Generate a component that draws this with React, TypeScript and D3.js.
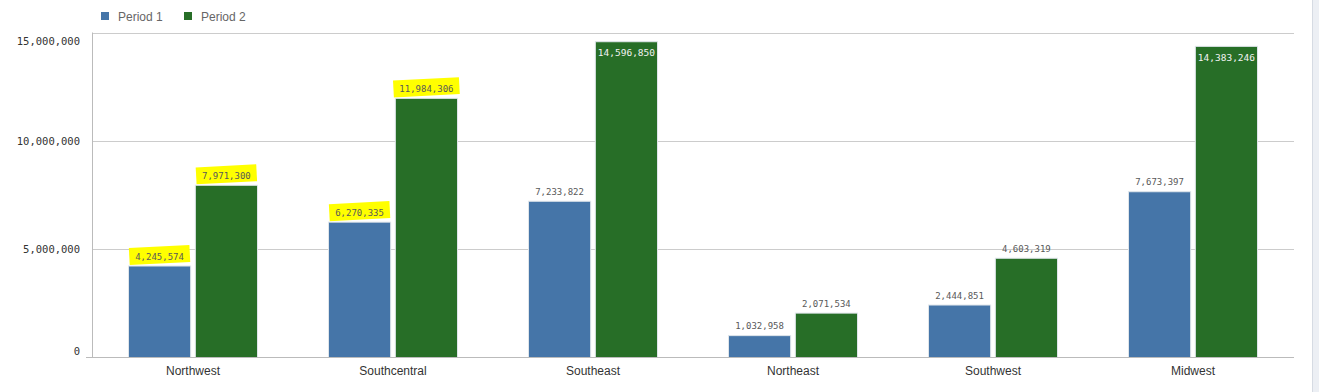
import React, { useRef, useEffect } from 'react';
import * as d3 from 'd3';

const categories = ['Northwest', 'Southcentral', 'Southeast', 'Northeast', 'Southwest', 'Midwest'];
const seriesNames = ['Period 1', 'Period 2'];
const period1 = [4245574, 6270335, 7233822, 1032958, 2444851, 7673397];
const period2 = [7971300, 11984306, 14596850, 2071534, 4603319, 14383246];
const yTicks = [0, 5000000, 10000000, 15000000];
// labels marked with a yellow highlighter in the picture: [category index, series index]
const highlighted = [[0, 0], [0, 1], [1, 0], [1, 1]];

const colors = ['#4575a8', '#276e27'];

const App: React.FC = () => {
  const ref = useRef<SVGSVGElement | null>(null);

  useEffect(() => {
    const W = 1319;
    const H = 392;
    const left = 92.5;
    const right = 1294;
    const top = 32.5;
    const bottom = 357.5;

    const svg = d3.select(ref.current);
    svg.selectAll('*').remove();
    svg.attr('width', W).attr('height', H);

    svg.append('rect').attr('width', W).attr('height', H).attr('fill', '#ffffff');
    // side panel at the right edge
    svg.append('rect').attr('x', 1312).attr('y', 0).attr('width', 7).attr('height', H).attr('fill', '#eceff4');
    svg.append('line').attr('x1', 1312.5).attr('x2', 1312.5).attr('y1', 0).attr('y2', H)
      .attr('stroke', '#d6dbe3');

    const x0 = d3.scaleBand<string>().domain(categories).range([93, 1293])
      .paddingInner(0.35).paddingOuter(0.175);
    const x1 = d3.scaleBand<string>().domain(seriesNames).range([0, x0.bandwidth()]).paddingInner(0.055);
    const y = d3.scaleLinear().domain([0, 15000000]).range([bottom, top]);

    // gridlines
    svg.append('g').selectAll('line').data(yTicks.filter((t) => t > 0)).join('line')
      .attr('x1', left).attr('x2', right)
      .attr('y1', (d) => Math.round(y(d)) + 0.5).attr('y2', (d) => Math.round(y(d)) + 0.5)
      .attr('stroke', '#cccccc');

    // y tick labels (extremes pulled inside the plot)
    const fmt = d3.format(',');
    svg.append('g').selectAll('text').data(yTicks).join('text')
      .attr('x', 80)
      .attr('y', (d) => {
        let c = y(d);
        if (d === 0) c -= 7;
        if (d === 15000000) c += 8;
        return c + 4;
      })
      .attr('text-anchor', 'end')
      .attr('font-family', '"DejaVu Sans Mono", monospace')
      .attr('font-size', 10.5)
      .attr('fill', '#333')
      .text((d) => fmt(d));

    const rows = categories.map((c, i) => ({ cat: c, vals: [period1[i], period2[i]] }));

    const groups = svg.append('g').selectAll('g').data(rows).join('g')
      .attr('transform', (d) => `translate(${x0(d.cat)},0)`);

    // highlighter marks
    groups.each(function (d, ci) {
      const g = d3.select(this);
      d.vals.forEach((v, si) => {
        if (!highlighted.some((h) => h[0] === ci && h[1] === si)) return;
        const cx = (x1(seriesNames[si]) as number) + x1.bandwidth() / 2;
        const cy = y(v) - 10;
        const w = fmt(v).length * 5.4 + 12;
        g.append('rect')
          .attr('x', cx - w / 2).attr('y', cy - 9).attr('width', w).attr('height', 17)
          .attr('fill', '#ffff00')
          .attr('transform', `rotate(-3 ${cx} ${cy})`);
      });
    });

    groups.selectAll('rect.bar').data((d) => d.vals.map((v, i) => ({ v, s: seriesNames[i], i }))).join('rect')
      .attr('class', 'bar')
      .attr('x', (d) => (x1(d.s) as number) + 0.5)
      .attr('width', x1.bandwidth() - 1)
      .attr('y', (d) => y(d.v) + 0.5)
      .attr('height', (d) => bottom - y(d.v) - 0.5)
      .attr('fill', (d) => colors[d.i])
      .attr('stroke', '#dfe5ea')
      .attr('stroke-width', 1);

    const inside = (v: number) => y(v) < top + 20;
    groups.selectAll('text.val').data((d) => d.vals.map((v, i) => ({ v, s: seriesNames[i], i }))).join('text')
      .attr('class', 'val')
      .attr('x', (d) => (x1(d.s) as number) + x1.bandwidth() / 2)
      .attr('y', (d) => (inside(d.v) ? y(d.v) + 15 : y(d.v) - 6))
      .attr('text-anchor', 'middle')
      .attr('font-family', '"DejaVu Sans Mono", monospace')
      .attr('font-size', (d) => (inside(d.v) ? 9.5 : 9))
      .attr('fill', (d) => (inside(d.v) ? '#f2f2f2' : '#595959'))
      .text((d) => fmt(d.v));

    // axes lines
    svg.append('line').attr('x1', 86).attr('x2', right).attr('y1', bottom).attr('y2', bottom)
      .attr('stroke', '#bbbbbb');
    svg.append('line').attr('x1', left).attr('x2', left).attr('y1', top).attr('y2', bottom)
      .attr('stroke', '#bbbbbb');

    // category labels
    svg.append('g').selectAll('text').data(categories).join('text')
      .attr('x', (d) => (x0(d) as number) + x0.bandwidth() / 2)
      .attr('y', 375)
      .attr('text-anchor', 'middle')
      .attr('font-family', '"Liberation Sans", Arial, sans-serif')
      .attr('font-size', 12)
      .attr('fill', '#333')
      .text((d) => d);

    // legend
    const legend = svg.append('g').selectAll('g').data(seriesNames).join('g')
      .attr('transform', (d, i) => `translate(${101 + i * 83},12)`);
    legend.append('rect').attr('width', 8).attr('height', 8).attr('fill', (d, i) => colors[i]);
    legend.append('text').attr('x', 17).attr('y', 8.5)
      .attr('font-family', '"Liberation Sans", Arial, sans-serif')
      .attr('font-size', 12)
      .attr('fill', '#666')
      .text((d) => d);
  }, []);

  return (
    <div style={{ position: 'absolute', left: 0, top: 0 }}>
      <svg ref={ref} style={{ display: 'block' }} />
    </div>
  );
};

export default App;
